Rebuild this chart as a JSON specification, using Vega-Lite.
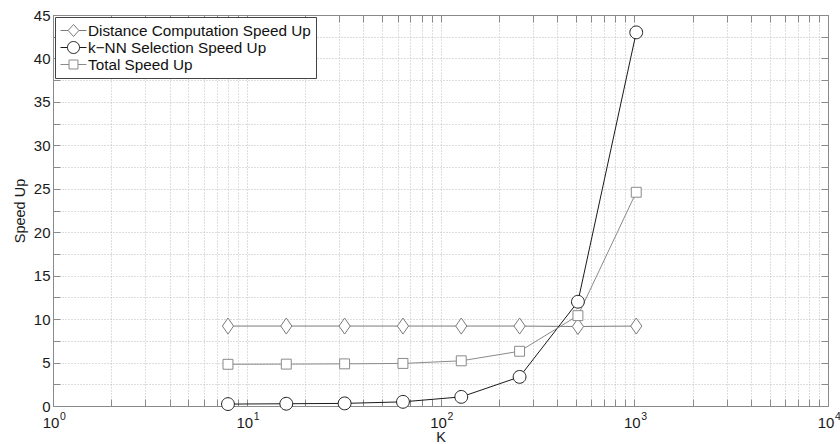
{
  "$schema": "https://vega.github.io/schema/vega-lite/v6.json",
  "width": 775,
  "height": 391,
  "autosize": "none",
  "padding": {"left": 53, "top": 15, "right": 12, "bottom": 38},
  "background": "white",
  "config": {
    "font": "Liberation Sans",
    "view": {"stroke": null},
    "axis": {
      "domainColor": "#8a8a8a",
      "tickColor": "#8a8a8a",
      "labelColor": "#1a1a1a",
      "titleColor": "#1a1a1a",
      "labelFont": "Liberation Sans",
      "titleFont": "Liberation Sans",
      "labelFontSize": 15,
      "titleFontSize": 14.5,
      "titleFontWeight": "normal",
      "gridColor": "#bdbdbd",
      "gridDash": [1, 2],
      "gridOpacity": 1,
      "tickSize": -7,
      "labelOverlap": false,
      "labelFlush": false
    },
    "legend": {
      "orient": "top-left",
      "offset": 2,
      "padding": 5,
      "strokeColor": "#444444",
      "fillColor": "white",
      "labelFont": "Liberation Sans",
      "labelFontSize": 15.3,
      "labelColor": "#111111",
      "labelLimit": 400,
      "rowPadding": -0.5,
      "symbolSize": 256,
      "symbolStrokeWidth": 1,
      "symbolFillColor": "white",
      "symbolOpacity": 1,
      "symbolOffset": 5,
      "labelOffset": 6
    }
  },
  "data": {
    "values": [
      {"K": 8, "series": "Distance Computation Speed Up", "speedup": 9.2},
      {"K": 16, "series": "Distance Computation Speed Up", "speedup": 9.2},
      {"K": 32, "series": "Distance Computation Speed Up", "speedup": 9.2},
      {"K": 64, "series": "Distance Computation Speed Up", "speedup": 9.2},
      {"K": 128, "series": "Distance Computation Speed Up", "speedup": 9.2},
      {"K": 256, "series": "Distance Computation Speed Up", "speedup": 9.2},
      {"K": 512, "series": "Distance Computation Speed Up", "speedup": 9.15},
      {"K": 1024, "series": "Distance Computation Speed Up", "speedup": 9.2},
      {"K": 8, "series": "k−NN Selection Speed Up", "speedup": 0.22},
      {"K": 16, "series": "k−NN Selection Speed Up", "speedup": 0.26},
      {"K": 32, "series": "k−NN Selection Speed Up", "speedup": 0.3},
      {"K": 64, "series": "k−NN Selection Speed Up", "speedup": 0.48},
      {"K": 128, "series": "k−NN Selection Speed Up", "speedup": 1.05},
      {"K": 256, "series": "k−NN Selection Speed Up", "speedup": 3.35},
      {"K": 512, "series": "k−NN Selection Speed Up", "speedup": 12.0},
      {"K": 1024, "series": "k−NN Selection Speed Up", "speedup": 43.0},
      {"K": 8, "series": "Total Speed Up", "speedup": 4.8},
      {"K": 16, "series": "Total Speed Up", "speedup": 4.82},
      {"K": 32, "series": "Total Speed Up", "speedup": 4.85},
      {"K": 64, "series": "Total Speed Up", "speedup": 4.9},
      {"K": 128, "series": "Total Speed Up", "speedup": 5.2},
      {"K": 256, "series": "Total Speed Up", "speedup": 6.3},
      {"K": 512, "series": "Total Speed Up", "speedup": 10.4},
      {"K": 1024, "series": "Total Speed Up", "speedup": 24.6}
    ]
  },
  "layer": [
    {
      "mark": {"type": "line", "strokeWidth": 1, "clip": true},
      "encoding": {
        "x": {
          "field": "K", "type": "quantitative",
          "scale": {"type": "log", "domain": [1, 10000], "nice": false},
          "axis": {
            "orient": "bottom",
            "values": [1,2,3,4,5,6,7,8,9,10,20,30,40,50,60,70,80,90,100,200,300,400,500,600,700,800,900,1000,2000,3000,4000,5000,6000,7000,8000,9000,10000],
            "labelExpr": "indexof([1, 10, 100, 1000, 10000], datum.value) >= 0 ? '10' : ''",
            "labelOffset": -2.5,
            "grid": true,
            "labelPadding": 16,
            "title": "K",
            "titlePadding": 0
          }
        },
        "y": {
          "field": "speedup", "type": "quantitative",
          "scale": {"domain": [0, 45], "nice": false, "zero": true},
          "axis": {
            "orient": "left",
            "values": [0,2.5,5,7.5,10,12.5,15,17.5,20,22.5,25,27.5,30,32.5,35,37.5,40,42.5,45],
            "labelExpr": "datum.value % 5 === 0 ? datum.label : ''",
            "grid": true,
            "labelPadding": 10,
            "title": "Speed Up",
            "titlePadding": 6
          }
        },
        "detail": {"field": "series", "type": "nominal"},
        "stroke": {
          "field": "series", "type": "nominal",
          "scale": {
            "domain": ["Distance Computation Speed Up", "k−NN Selection Speed Up", "Total Speed Up"],
            "range": ["#7a7a7a", "#1a1a1a", "#8a8a8a"]
          },
          "legend": null
        }
      }
    },
    {
      "mark": {"type": "point", "filled": true, "fill": "white", "strokeWidth": 1, "size": 256, "opacity": 1},
      "encoding": {
        "x": {
          "field": "K", "type": "quantitative",
          "axis": {
            "orient": "bottom",
            "values": [1, 10, 100, 1000, 10000],
            "labelExpr": "'' + round(log(datum.value) / LN10)",
            "labelFontSize": 10.5,
            "labelAlign": "left",
            "labelOffset": 6.5,
            "labelPadding": 5,
            "ticks": false,
            "tickSize": 0,
            "domain": false,
            "grid": false,
            "title": null
          }
        },
        "y": {"field": "speedup", "type": "quantitative", "axis": null},
        "stroke": {
          "field": "series", "type": "nominal",
          "scale": {
            "domain": ["Distance Computation Speed Up", "k−NN Selection Speed Up", "Total Speed Up"],
            "range": ["#7a7a7a", "#1a1a1a", "#8a8a8a"]
          },
          "legend": null
        },
        "shape": {
          "field": "series", "type": "nominal",
          "scale": {
            "domain": ["Distance Computation Speed Up", "k−NN Selection Speed Up", "Total Speed Up"],
            "range": [
              "M0,-1L0.7,0L0,1L-0.7,0Z",
              "M-0.8,0A0.8,0.8,0,1,0,0.8,0A0.8,0.8,0,1,0,-0.8,0Z",
              "M-0.62,-0.62H0.62V0.62H-0.62Z"
            ]
          },
          "legend": null
        }
      }
    },
    {
      "mark": {"type": "point", "opacity": 0, "size": 256, "filled": false},
      "encoding": {
        "x": {
          "field": "K", "type": "quantitative",
          "axis": {
            "orient": "top",
            "values": [1,2,3,4,5,6,7,8,9,10,20,30,40,50,60,70,80,90,100,200,300,400,500,600,700,800,900,1000,2000,3000,4000,5000,6000,7000,8000,9000,10000],
            "labels": false, "grid": false, "title": null
          }
        },
        "y": {
          "field": "speedup", "type": "quantitative",
          "axis": {
            "orient": "right",
            "values": [0,2.5,5,7.5,10,12.5,15,17.5,20,22.5,25,27.5,30,32.5,35,37.5,40,42.5,45],
            "labels": false, "grid": false, "title": null
          }
        },
        "color": {
          "field": "series", "type": "nominal",
          "scale": {
            "domain": ["Distance Computation Speed Up", "k−NN Selection Speed Up", "Total Speed Up"],
            "range": ["#7a7a7a", "#1a1a1a", "#8a8a8a"]
          },
          "legend": {"title": null}
        },
        "shape": {
          "field": "series", "type": "nominal",
          "scale": {
            "domain": ["Distance Computation Speed Up", "k−NN Selection Speed Up", "Total Speed Up"],
            "range": [
              "M-1.625,0H-0.67M0.67,0H1.625M0,-0.75L0.67,0L0,0.75L-0.67,0Z",
              "M-1.625,0H-0.75M0.75,0H1.625M-0.75,0A0.75,0.75,0,1,0,0.75,0A0.75,0.75,0,1,0,-0.75,0Z",
              "M-1.625,0H-0.56M0.56,0H1.625M-0.56,-0.56H0.56V0.56H-0.56Z"
            ]
          },
          "legend": {"title": null}
        }
      }
    }
  ],
  "resolve": {
    "scale": {"shape": "independent", "stroke": "independent", "color": "independent"},
    "axis": {"x": "independent", "y": "independent"}
  }
}
